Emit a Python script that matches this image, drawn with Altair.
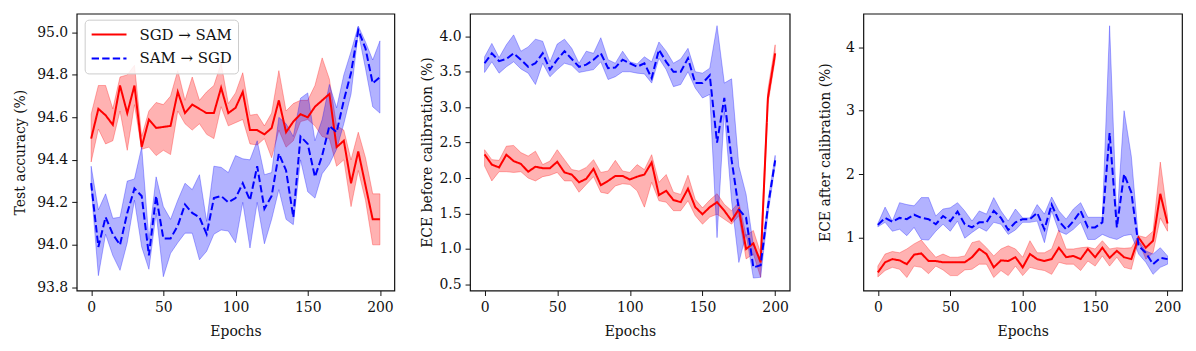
import altair as alt
import pandas as pd

EPOCHS = list(range(0, 201, 5))
SERIES = ["SGD → SAM", "SAM → SGD"]
COLORS = ["#ff0000", "#0000ff"]
X_TICKS = [0, 50, 100, 150, 200]

# Panel 1: test accuracy (%)
acc_sgd_sam_mean = [94.50, 94.64, 94.61, 94.565, 94.75, 94.62, 94.75, 94.46, 94.59, 94.55, 94.555, 94.56, 94.72, 94.62, 94.66, 94.64, 94.62, 94.62, 94.74, 94.62, 94.645, 94.72, 94.54, 94.54, 94.52, 94.55, 94.68, 94.53, 94.58, 94.615, 94.60, 94.65, 94.68, 94.71, 94.46, 94.49, 94.29, 94.44, 94.28, 94.12, 94.12]
acc_sgd_sam_hi = [94.615, 94.75, 94.75, 94.64, 94.79, 94.80, 94.845, 94.51, 94.63, 94.67, 94.66, 94.70, 94.82, 94.68, 94.79, 94.68, 94.72, 94.75, 94.855, 94.665, 94.715, 94.81, 94.61, 94.615, 94.56, 94.62, 94.82, 94.63, 94.665, 94.68, 94.68, 94.75, 94.88, 94.78, 94.56, 94.54, 94.40, 94.53, 94.41, 94.24, 94.24]
acc_sgd_sam_lo = [94.39, 94.545, 94.475, 94.49, 94.63, 94.445, 94.66, 94.45, 94.46, 94.42, 94.445, 94.425, 94.63, 94.57, 94.54, 94.57, 94.52, 94.50, 94.65, 94.56, 94.575, 94.59, 94.475, 94.47, 94.50, 94.41, 94.54, 94.46, 94.49, 94.58, 94.59, 94.56, 94.51, 94.50, 94.37, 94.40, 94.18, 94.35, 94.21, 94.00, 94.00]
acc_sam_sgd_mean = [94.29, 93.99, 94.13, 94.05, 94.00, 94.15, 94.265, 94.23, 93.95, 94.23, 94.03, 94.03, 94.09, 94.19, 94.15, 94.13, 94.05, 94.22, 94.23, 94.20, 94.22, 94.29, 94.21, 94.37, 94.17, 94.23, 94.43, 94.35, 94.13, 94.51, 94.475, 94.32, 94.42, 94.56, 94.53, 94.68, 94.81, 95.01, 94.925, 94.76, 94.79]
acc_sam_sgd_hi = [94.37, 94.165, 94.24, 94.125, 94.13, 94.30, 94.31, 94.46, 94.025, 94.32, 94.18, 94.12, 94.21, 94.29, 94.26, 94.33, 94.11, 94.37, 94.365, 94.34, 94.42, 94.405, 94.40, 94.49, 94.33, 94.34, 94.60, 94.57, 94.51, 94.69, 94.715, 94.49, 94.59, 94.755, 94.645, 94.80, 94.91, 95.03, 94.955, 94.87, 94.96]
acc_sam_sgd_lo = [94.27, 93.855, 94.05, 93.95, 93.88, 94.01, 94.21, 93.99, 93.885, 94.15, 93.85, 93.96, 94.01, 94.055, 94.055, 93.93, 93.97, 94.05, 94.07, 94.065, 94.01, 94.20, 93.985, 94.20, 94.005, 94.12, 94.26, 94.12, 94.095, 94.40, 94.25, 94.22, 94.335, 94.38, 94.45, 94.57, 94.71, 95.00, 94.83, 94.65, 94.62]

# Panel 2: ECE before calibration (%)
eceb_sgd_sam_mean = [2.334, 2.19, 2.15, 2.33, 2.24, 2.20, 2.09, 2.16, 2.14, 2.14, 2.23, 2.08, 2.05, 1.94, 1.99, 2.13, 1.90, 1.96, 2.03, 2.03, 1.98, 2.02, 2.05, 2.22, 1.76, 1.82, 1.69, 1.66, 1.85, 1.59, 1.49, 1.59, 1.66, 1.54, 1.40, 1.56, 1.00, 1.08, 0.81, 3.13, 3.76]
eceb_sgd_sam_hi = [2.40, 2.26, 2.25, 2.45, 2.46, 2.36, 2.31, 2.38, 2.19, 2.24, 2.40, 2.26, 2.12, 2.10, 2.15, 2.26, 2.08, 2.10, 2.25, 2.10, 2.08, 2.19, 2.12, 2.33, 1.94, 2.05, 1.80, 1.77, 2.04, 1.70, 1.58, 1.69, 1.78, 1.63, 1.54, 1.66, 1.19, 1.26, 0.94, 3.25, 3.88]
eceb_sgd_sam_lo = [2.17, 1.96, 2.09, 2.09, 2.08, 2.09, 2.00, 1.96, 2.02, 2.04, 2.08, 1.96, 1.96, 1.80, 1.91, 2.02, 1.80, 1.78, 1.89, 1.92, 1.91, 1.82, 1.59, 1.94, 1.68, 1.66, 1.54, 1.54, 1.68, 1.47, 1.35, 1.45, 1.49, 1.42, 1.35, 1.47, 0.86, 0.93, 0.60, 3.04, 3.67]
eceb_sam_sgd_mean = [3.62, 3.76, 3.65, 3.68, 3.76, 3.67, 3.57, 3.62, 3.76, 3.53, 3.67, 3.79, 3.68, 3.57, 3.60, 3.67, 3.76, 3.55, 3.56, 3.67, 3.62, 3.57, 3.62, 3.41, 3.81, 3.64, 3.50, 3.50, 3.69, 3.34, 3.34, 3.45, 2.50, 3.13, 2.26, 1.56, 1.44, 0.74, 0.77, 1.59, 2.25]
eceb_sam_sgd_hi = [3.71, 3.90, 3.70, 3.88, 4.02, 3.79, 3.85, 3.96, 3.93, 3.64, 3.89, 3.96, 3.83, 3.62, 3.79, 3.76, 3.98, 3.67, 3.62, 3.79, 3.64, 3.61, 3.71, 3.64, 3.92, 3.79, 3.62, 3.68, 3.83, 3.50, 3.48, 3.55, 4.15, 3.34, 3.40, 2.17, 1.77, 1.05, 0.86, 1.68, 2.32]
eceb_sam_sgd_lo = [3.49, 3.64, 3.48, 3.57, 3.64, 3.54, 3.48, 3.32, 3.62, 3.43, 3.53, 3.62, 3.59, 3.49, 3.51, 3.53, 3.64, 3.39, 3.43, 3.50, 3.50, 3.48, 3.47, 3.34, 3.69, 3.53, 3.29, 3.32, 3.50, 3.27, 3.13, 3.18, 1.16, 2.94, 1.68, 0.81, 1.21, 0.59, 0.60, 1.49, 2.18]

# Panel 3: ECE after calibration (%)
ecea_sgd_sam_mean = [0.45, 0.61, 0.66, 0.64, 0.58, 0.73, 0.75, 0.63, 0.63, 0.61, 0.61, 0.61, 0.61, 0.69, 0.82, 0.74, 0.53, 0.64, 0.63, 0.69, 0.53, 0.74, 0.66, 0.63, 0.66, 0.84, 0.69, 0.71, 0.66, 0.82, 0.69, 0.84, 0.68, 0.79, 0.69, 0.66, 1.00, 0.84, 0.95, 1.69, 1.22]
ecea_sgd_sam_hi = [0.55, 0.74, 0.78, 0.76, 0.82, 0.90, 0.96, 0.82, 0.69, 0.74, 0.69, 0.69, 0.71, 0.92, 0.95, 0.84, 0.71, 0.82, 0.87, 0.82, 0.69, 0.95, 0.76, 0.76, 0.82, 1.12, 0.82, 0.82, 0.84, 0.85, 0.82, 0.95, 0.82, 0.84, 0.83, 0.84, 1.03, 1.00, 1.10, 2.19, 1.34]
ecea_sgd_sam_lo = [0.38, 0.48, 0.53, 0.50, 0.37, 0.55, 0.53, 0.43, 0.55, 0.49, 0.40, 0.40, 0.49, 0.50, 0.58, 0.58, 0.37, 0.48, 0.40, 0.55, 0.40, 0.53, 0.50, 0.48, 0.42, 0.61, 0.58, 0.58, 0.48, 0.63, 0.55, 0.71, 0.55, 0.69, 0.53, 0.50, 0.95, 0.66, 0.76, 1.31, 1.10]
ecea_sam_sgd_mean = [1.20, 1.31, 1.25, 1.31, 1.29, 1.36, 1.31, 1.29, 1.21, 1.34, 1.26, 1.41, 1.21, 1.16, 1.24, 1.24, 1.42, 1.31, 1.12, 1.24, 1.29, 1.29, 1.39, 1.13, 1.52, 1.26, 1.13, 1.26, 1.42, 1.16, 1.16, 1.24, 2.65, 1.16, 2.00, 1.71, 0.87, 0.76, 0.58, 0.68, 0.66]
ecea_sam_sgd_hi = [1.22, 1.48, 1.26, 1.55, 1.52, 1.50, 1.63, 1.63, 1.34, 1.45, 1.47, 1.55, 1.42, 1.26, 1.42, 1.37, 1.63, 1.42, 1.26, 1.45, 1.31, 1.31, 1.52, 1.37, 1.64, 1.42, 1.29, 1.45, 1.55, 1.32, 1.32, 1.32, 4.34, 1.26, 3.00, 2.28, 0.95, 0.79, 0.74, 0.84, 0.71]
ecea_sam_sgd_lo = [1.17, 1.24, 1.10, 1.13, 1.03, 1.16, 0.97, 0.96, 1.10, 1.21, 1.10, 1.26, 0.99, 1.08, 1.16, 1.10, 1.24, 1.21, 1.05, 1.12, 1.24, 1.24, 1.26, 0.92, 1.42, 1.10, 1.05, 1.13, 1.24, 0.97, 0.97, 1.05, 1.00, 0.97, 1.03, 1.05, 0.74, 0.61, 0.42, 0.53, 0.58]

FONT = "DejaVu Serif"
H = 278

color_scale = alt.Scale(domain=SERIES, range=COLORS)
dash_scale = alt.Scale(domain=SERIES, range=[[1, 0], [7.4, 3.2]])


def make_df(a_m, a_lo, a_hi, b_m, b_lo, b_hi):
    rows = []
    for s, (m, lo, hi) in zip(SERIES, [(a_m, a_lo, a_hi), (b_m, b_lo, b_hi)]):
        for e, mv, lv, hv in zip(EPOCHS, m, lo, hi):
            rows.append({"epoch": e, "series": s, "mean": mv, "lo": lv, "hi": hv})
    return pd.DataFrame(rows)


def panel(df, width, ytitle, ydomain, yticks, yfmt, title_x, show_legend):
    xenc = alt.X(
        "epoch:Q",
        scale=alt.Scale(domain=[-10, 210], nice=False, zero=False),
        axis=alt.Axis(values=X_TICKS, title="Epochs", format="d",
                      titleX=width / 2, titleY=45, titleAlign="center",
                      titleBaseline="alphabetic", labelPadding=5, labelOverlap=False),
    )
    yscale = alt.Scale(domain=ydomain, nice=False, zero=False)
    yaxis = alt.Axis(values=yticks, format=yfmt, title=ytitle, titleX=title_x,
                     titleY=H / 2, titleAngle=270, titleAlign="center",
                     titleBaseline="middle", labelPadding=4, labelOverlap=False)
    layers = []
    for s, c in zip(SERIES, COLORS):
        band = alt.Chart(df).transform_filter(alt.datum.series == s).mark_area(
            color=c, fillOpacity=0.3, stroke=c, strokeOpacity=0.3, strokeWidth=1
        ).encode(
            x=xenc,
            y=alt.Y("lo:Q", scale=yscale, axis=yaxis),
            y2="hi:Q",
        )
        layers.append(band)
    if show_legend:
        leg = alt.Legend(
            title=None, orient="none", legendX=8, legendY=6,
            symbolType="stroke", symbolSize=1225, symbolStrokeWidth=2,
            labelFont=FONT, labelFontSize=15, labelColor="#111111", labelOffset=12,
            clipHeight=18, rowPadding=6, padding=6,
            fillColor="rgba(255,255,255,0.85)", strokeColor="#cccccc", cornerRadius=4,
        )
        cenc = alt.Color("series:N", scale=color_scale, legend=leg)
        denc = alt.StrokeDash("series:N", scale=dash_scale, legend=leg)
    else:
        cenc = alt.Color("series:N", scale=color_scale, legend=None)
        denc = alt.StrokeDash("series:N", scale=dash_scale, legend=None)
    line = alt.Chart(df).mark_line(strokeWidth=2).encode(
        x=xenc,
        y=alt.Y("mean:Q", scale=yscale, axis=yaxis),
        color=cenc,
        strokeDash=denc,
    )
    layers.append(line)
    return alt.layer(*layers).properties(width=width, height=H)


df1 = make_df(acc_sgd_sam_mean, acc_sgd_sam_lo, acc_sgd_sam_hi,
              acc_sam_sgd_mean, acc_sam_sgd_lo, acc_sam_sgd_hi)
df2 = make_df(eceb_sgd_sam_mean, eceb_sgd_sam_lo, eceb_sgd_sam_hi,
              eceb_sam_sgd_mean, eceb_sam_sgd_lo, eceb_sam_sgd_hi)
df3 = make_df(ecea_sgd_sam_mean, ecea_sgd_sam_lo, ecea_sgd_sam_hi,
              ecea_sam_sgd_mean, ecea_sam_sgd_lo, ecea_sam_sgd_hi)

p1 = panel(df1, 319, "Test accuracy (%)", [93.785, 95.088],
           [93.8, 94.0, 94.2, 94.4, 94.6, 94.8, 95.0], ".1f", -56, True)
p2 = panel(df2, 321, "ECE before calibration (%)", [0.414, 4.319],
           [0.5, 1.0, 1.5, 2.0, 2.5, 3.0, 3.5, 4.0], ".1f", -43, False)
p3 = panel(df3, 320, "ECE after calibration (%)", [0.165, 4.53],
           [1, 2, 3, 4], "d", -38, False)

inner = alt.hconcat(p1, p2, spacing=24).resolve_scale(
    color="independent", strokeDash="independent"
).resolve_legend(color="independent", strokeDash="independent")

chart = alt.hconcat(inner, p3, spacing=27).resolve_scale(
    color="independent", strokeDash="independent"
).resolve_legend(color="independent", strokeDash="independent").properties(
    padding={"left": 5, "top": 4, "right": 5, "bottom": 5}
).configure_view(
    stroke="#111111", strokeWidth=1.2
).configure_axis(
    domain=False, grid=False, tickColor="#111111", tickWidth=1, tickSize=5,
    labelFont=FONT, labelFontSize=14, labelColor="#111111",
    titleFont=FONT, titleFontSize=14, titleFontWeight="normal", titleColor="#111111",
)

chart.save("out.html", embed_options={"renderer": "svg", "actions": False})
